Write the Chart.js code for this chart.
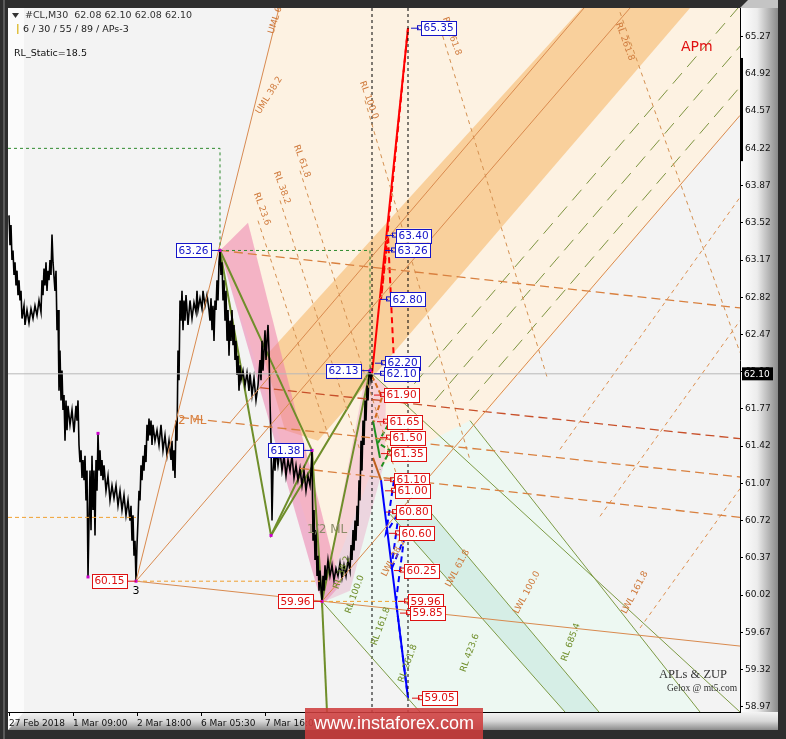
<!DOCTYPE html>
<html>
<head>
<meta charset="utf-8">
<script src="https://cdn.jsdelivr.net/npm/chart.js@4.4.1/dist/chart.umd.min.js"></script>
<style>
html,body{margin:0;padding:0;background:#2e2e2e;overflow:hidden}
canvas{display:block}
</style>
</head>
<body>
<canvas id="c" width="786" height="739"></canvas>
<script>
// ---- #CL M30 close prices: [bar, price] ----
const priceSeries = [[1,63.59],[2,63.31],[3,63.50],[4,63.17],[5,63.26],[6,63.03],[7,63.15],[8,62.93],[9,63.07],[10,62.84],[11,62.98],[12,62.79],[13,62.88],[14,62.62],[16,62.74],[17,62.56],[19,62.70],[21,62.58],[23,62.71],[25,62.62],[27,62.74],[29,62.65],[31,62.79],[33,62.68],[34,62.98],[35,62.84],[36,63.09],[37,62.93],[38,63.15],[39,62.88],[40,63.07],[41,62.98],[42,63.17],[43,63.03],[44,63.41],[45,63.15],[47,62.88],[48,63.07],[49,62.51],[50,62.70],[51,61.94],[52,62.32],[53,61.85],[54,62.13],[55,61.76],[56,61.90],[57,61.47],[58,61.85],[59,61.57],[60,61.80],[62,61.62],[64,61.76],[66,61.55],[68,61.80],[69,61.66],[70,61.85],[71,61.43],[72,61.27],[73,61.38],[74,61.12],[75,61.29],[76,61.10],[77,61.33],[78,60.91],[79,61.19],[80,60.19],[81,60.72],[82,61.19],[83,60.63],[84,61.33],[85,60.82],[86,61.19],[87,60.58],[88,61.29],[89,61.00],[90,61.54],[91,61.19],[92,61.38],[93,61.14],[94,61.29],[95,61.10],[96,61.24],[98,61.00],[100,61.14],[102,60.91],[104,61.05],[106,60.93],[108,61.05],[110,60.86],[112,61.00],[114,60.82],[116,60.96],[118,60.77],[120,60.91],[122,60.72],[123,60.86],[124,60.53],[125,60.77],[126,60.39],[127,60.53],[128,60.15],[129,60.49],[130,60.72],[131,61.00],[132,60.91],[133,61.24],[134,61.10],[135,61.33],[136,61.19],[137,61.43],[138,61.27],[139,61.62],[140,61.47],[141,61.68],[142,61.52],[143,61.66],[144,61.43],[145,61.62],[147,61.47],[149,61.57],[151,61.43],[153,61.62],[155,61.38],[157,61.52],[159,61.33],[161,61.47],[163,61.29],[164,61.47],[165,61.19],[166,61.38],[167,61.12],[168,61.66],[169,61.47],[170,62.32],[171,62.04],[172,62.79],[173,62.60],[174,62.88],[175,62.51],[176,62.79],[177,62.60],[178,62.84],[180,62.56],[182,62.79],[184,62.62],[186,62.77],[188,62.68],[189,62.88],[190,62.70],[192,62.81],[194,62.71],[195,62.88],[197,62.74],[199,62.84],[201,62.70],[202,62.60],[203,62.81],[204,62.51],[205,62.74],[206,62.41],[207,62.79],[208,62.70],[209,62.98],[210,62.79],[211,63.15],[212,63.26],[213,63.03],[214,63.15],[215,62.79],[216,62.98],[217,62.60],[218,62.88],[219,62.41],[220,62.70],[221,62.27],[222,62.60],[223,62.41],[224,62.70],[225,62.37],[226,62.56],[227,62.23],[228,62.41],[229,62.09],[230,62.27],[231,61.94],[232,62.18],[233,62.04],[235,62.13],[237,61.99],[239,62.11],[241,61.94],[242,62.11],[244,61.90],[246,62.06],[248,61.85],[250,61.99],[252,62.23],[253,62.04],[254,62.41],[255,62.13],[256,62.32],[257,62.51],[258,62.23],[259,62.41],[260,62.56],[261,62.32],[262,61.85],[263,61.47],[264,60.72],[265,61.19],[266,61.33],[267,61.19],[268,61.40],[270,61.24],[272,61.38],[274,61.19],[276,61.33],[278,61.14],[280,61.29],[282,61.19],[284,61.33],[286,61.12],[288,61.24],[290,61.10],[292,61.21],[294,61.05],[296,61.19],[298,61.00],[300,61.14],[302,61.05],[303,61.19],[304,61.38],[305,60.53],[306,60.82],[307,60.35],[308,60.63],[309,60.20],[310,60.39],[311,60.06],[312,60.25],[313,60.08],[314,59.96],[315,60.20],[316,60.06],[317,60.30],[318,60.16],[320,60.35],[322,60.20],[324,60.30],[326,60.16],[328,60.27],[330,60.20],[332,60.32],[334,60.18],[336,60.30],[338,60.20],[340,60.35],[342,60.25],[343,60.49],[344,60.35],[345,60.63],[346,60.44],[347,60.72],[348,60.53],[349,60.86],[350,60.67],[351,61.10],[352,60.91],[353,61.47],[354,61.19],[355,61.66],[356,61.43],[357,61.85],[358,61.66],[359,61.99],[360,61.85],[361,62.09],[362,62.13],[363,62.04],[364,62.10]];

// ---- axes ----
const yTickValues = [65.27,64.92,64.57,64.22,63.87,63.52,63.17,62.82,62.47,62.12,61.77,61.42,61.07,60.72,60.37,60.02,59.67,59.32,58.97];
const xTickBars = [1,65,129,193,257];
const xTickLabels = ['27 Feb 2018','1 Mar 09:00','2 Mar 18:00','6 Mar 05:30','7 Mar 16:00'];
const lastPrice = 62.10;
const currentBar = 364;
const futureBar = 400;

// ---- ZUP zigzag pivots ----
const zigHighBars = [212, 304, 362];
const zigHighPrices = [63.26, 61.38, 62.13];
const zigLowBars = [128, 314];
const zigLowPrices = [60.15, 59.96];
const extraPivotBars = [80, 90, 263];
const extraPivotPrices = [60.19, 61.54, 60.58];

// ---- projected targets ----
const upTargetBars = [411, 386, 385, 380, 375, 374];
const upTargetPrices = [65.35, 63.40, 63.26, 62.80, 62.20, 62.10];
const downTargetBars = [374, 377, 380, 381, 384, 385, 386, 389, 394, 398, 400, 412];
const downTargetPrices = [61.90, 61.65, 61.50, 61.35, 61.10, 61.00, 60.80, 60.60, 60.25, 59.96, 59.85, 59.05];

// ---- projection paths ----
const redSolidPath = [[364,62.10],[400,65.35]];
const redDashPath = [[386,62.20],[380,63.40],[373,62.80],[400,65.35]];
const blueSolidPath = [[373,61.10],[400,59.05]];
const blueDashPath = [[386,61.10],[378,60.60],[391,60.80],[383,60.25],[396,60.55],[388,59.96],[400,59.05]];
const greenSolidPath = [[365,61.66],[372,61.31]];
const greenDashPath = [[380,61.62],[370,61.45],[382,61.38],[372,61.20]];
const brownDashPath = [[364,62.08],[374,61.88],[366,61.65]];
const brownSolidPath = [[365,61.31],[373,61.10]];

// ---- olive wave lines ----
const oliveWaveA = [[212,63.26],[263,60.58],[362,62.13]];
const oliveWaveB = [[212,63.26],[304,61.38],[314,59.96],[362,62.13]];
const oliveWaveC = [[263,60.58],[304,61.38]];
const oliveTail = [[314,59.96],[319,58.92]];

// ---- levels & boxes ----
const greenBoxA = [[0,64.22],[212,64.22],[212,63.26]];
const greenBoxB = [[212,63.26],[362,63.26],[362,62.13]];
const levelLeft = [[0,60.75],[128,60.75]];
const levelLow1 = [[128,60.15],[312,60.15]];
const levelLow2 = [[314,59.96],[400,59.96]];

// ---- Andrews pitchfork lines ----
const forkBase = [[128,60.15],[732,59.54]];
const forkUml = [[128,60.15],[271,65.54]];
const forkUpper = [[128,60.15],[622,65.54]];
const forkInner = [[222,61.64],[576,65.54]];
const forkLower = [[314,59.96],[732,64.53]];
const mlLineA = [[212,63.26],[732,62.72]];
const mlLineB = [[252,61.97],[732,61.49]];
const mlLineC = [[172,61.69],[732,61.13]];
const mlLineD = [[292,61.21],[732,60.75]];
const rlLines = [
  [[250,63.54],[322,61.47]],
  [[272,63.73],[352,61.38]],
  [[292,64.01],[392,61.05]],
  [[357,64.67],[462,61.29]],
  [[430,65.42],[540,62.04]],
  [[612,65.50],[732,62.30]]
];
const sideDashLines = [
  [[552,61.39],[732,63.76]],
  [[592,60.76],[732,62.60]],
  [[632,59.71],[732,61.02]]
];
const oliveLongLines = [
  [[392,61.85],[730,65.54]],
  [[427,61.85],[765,65.54]],
  [[462,61.85],[800,65.54]]
];
const lwlLines = [
  [[364,62.10],[732,58.92]],
  [[314,59.96],[412,58.92]],
  [[382,60.78],[557,58.92]],
  [[417,60.86],[591,58.92]],
  [[462,61.66],[692,58.92]]
];

// ---- zones ----
const peachZone = [[271,65.54],[732,65.54],[732,64.53],[322,60.02],[212,63.26]];
const bandZone = [[256,62.25],[574,65.54],[682,65.54],[310,61.47],[277,61.57]];
const pinkZone = [[212,63.26],[240,63.52],[332,60.11],[317,59.95],[310,60.06]];
const pinkZone2 = [[314,59.95],[358,62.11],[378,61.99],[377,61.29],[342,60.06]];
const mintZone = [[314,59.96],[364,61.19],[462,61.66],[692,58.92],[412,58.92]];
const tealZone = [[382,60.78],[417,60.86],[591,58.92],[557,58.92]];

// ---------------------------------------------------------------
const FONT = '"DejaVu Sans", "Liberation Sans", sans-serif';
const SERIF = '"Liberation Serif", "DejaVu Serif", serif';

function pts(a){ return a.map(p => ({x:p[0], y:p[1]})); }
function line(a, color, width, dash){
  return {data: pts(a), showLine:true, borderColor:color, borderWidth:width,
          borderDash:dash||[], pointRadius:0, fill:false, tension:0};
}

const datasets = [];
datasets.push(line([[0,lastPrice],[732,lastPrice]], '#b8b8b8', 1));
datasets.push(line(greenBoxA, '#2f8a2f', 1, [3,3]));
datasets.push(line(greenBoxB, '#2f8a2f', 1, [3,3]));
datasets.push(line(levelLeft, '#f0a030', 1, [4,3]));
datasets.push(line(levelLow1, '#f0a030', 1, [4,3]));
datasets.push(line(levelLow2, '#f0a030', 1, [4,3]));
[forkBase, forkUml, forkUpper, forkInner, forkLower].forEach(l => datasets.push(line(l, '#d98a4e', 1)));
[mlLineA, mlLineC, mlLineD].forEach(l => datasets.push(line(l, '#d9803f', 1.3, [9,5])));
datasets.push(line(mlLineB, '#c8502a', 1.3, [9,5]));
rlLines.forEach(l => datasets.push(line(l, '#d49050', 1, [4,4])));
sideDashLines.forEach(l => datasets.push(line(l, '#dd9050', 1, [4,4])));
oliveLongLines.forEach(l => datasets.push(line(l, '#7d9440', 1, [14,8])));
lwlLines.forEach(l => datasets.push(line(l, '#7d9a45', 1)));
datasets.push(line([[currentBar,65.54],[currentBar,58.92]], '#000000', 1, [3,3]));
datasets.push(line([[futureBar,65.54],[futureBar,58.92]], '#000000', 1, [3,3]));
datasets.push(line(priceSeries, '#000000', 1.6));
[oliveWaveA, oliveWaveB, oliveWaveC, oliveTail].forEach(l => datasets.push(line(l, '#6f8e2a', 2)));
datasets.push(line(redSolidPath, '#ff0000', 2));
datasets.push(line(redDashPath, '#ff0000', 2, [6,4]));
datasets.push(line(brownDashPath, '#d2691e', 2, [5,3]));
datasets.push(line(brownSolidPath, '#c06020', 2));
datasets.push(line(greenSolidPath, '#1f8f1f', 2));
datasets.push(line(greenDashPath, '#1f8f1f', 2, [5,3]));
datasets.push(line(blueSolidPath, '#0000ff', 2));
datasets.push(line(blueDashPath, '#0000ff', 2, [6,4]));

function poly(ctx, chart, a, color){
  const xs = chart.scales.x, ys = chart.scales.y;
  ctx.beginPath();
  a.forEach((p,i) => {
    const px = xs.getPixelForValue(p[0]), py = ys.getPixelForValue(p[1]);
    if (i===0) ctx.moveTo(px,py); else ctx.lineTo(px,py);
  });
  ctx.closePath();
  ctx.fillStyle = color;
  ctx.fill();
}

function txt(ctx, s, x, y, color, font, angle, align){
  ctx.save();
  ctx.translate(x, y);
  if (angle) ctx.rotate(angle*Math.PI/180);
  ctx.fillStyle = color;
  ctx.font = font;
  ctx.textAlign = align || 'left';
  ctx.textBaseline = 'middle';
  ctx.fillText(s, 0, 0);
  ctx.restore();
}

const framePlugin = {
  id: 'frame',
  beforeDraw(chart){
    const ctx = chart.ctx, a = chart.chartArea;
    ctx.save();
    ctx.fillStyle = '#2e2e2e';
    ctx.fillRect(0,0,786,739);
    // right price-scale panel
    let g = ctx.createLinearGradient(a.right,0,778,0);
    g.addColorStop(0,'#ffffff'); g.addColorStop(0.45,'#ececec'); g.addColorStop(1,'#8a8a8a');
    ctx.fillStyle = g;
    ctx.fillRect(a.right, a.top, 778-a.right, 730-a.top);
    // bottom time-scale panel
    g = ctx.createLinearGradient(0,a.bottom,0,730);
    g.addColorStop(0,'#f4f4f4'); g.addColorStop(0.5,'#d8d8d8'); g.addColorStop(1,'#8c8c8c');
    ctx.fillStyle = g;
    ctx.fillRect(a.left, a.bottom, 778-a.left, 730-a.bottom);
    // bevel corners
    ctx.beginPath(); ctx.moveTo(a.right,a.top); ctx.lineTo(a.right+8,0); ctx.lineTo(778,0); ctx.lineTo(778,a.top); ctx.closePath();
    ctx.fillStyle = '#c4c4c4'; ctx.fill();
    ctx.beginPath(); ctx.moveTo(a.left,a.bottom); ctx.lineTo(a.left+16,a.bottom); ctx.lineTo(a.left,730); ctx.closePath();
    ctx.fillStyle = '#ffffff'; ctx.fill();
    ctx.fillStyle = '#5a5a5a';
    ctx.fillRect(3,0,2,739);
    // plot background
    ctx.fillStyle = '#f3f3f3';
    ctx.fillRect(a.left, a.top, a.right-a.left, a.bottom-a.top);
    ctx.fillStyle = '#fbfbfb';
    ctx.fillRect(a.left, a.top, 16, a.bottom-a.top);
    ctx.restore();
  },
  beforeDatasetsDraw(chart){
    const ctx = chart.ctx, a = chart.chartArea;
    ctx.save();
    ctx.beginPath(); ctx.rect(a.left,a.top,a.right-a.left,a.bottom-a.top); ctx.clip();
    poly(ctx, chart, peachZone, '#fdf2e2');
    poly(ctx, chart, mintZone, '#edf8f2');
    poly(ctx, chart, tealZone, '#d6eee6');
    poly(ctx, chart, bandZone, '#f9d09c');
    poly(ctx, chart, pinkZone, 'rgba(236,120,170,0.52)');
    poly(ctx, chart, pinkZone2, 'rgba(236,150,190,0.35)');
    ctx.restore();
  },
  afterDatasetsDraw(chart){
    const ctx = chart.ctx, a = chart.chartArea;
    const xs = chart.scales.x, ys = chart.scales.y;
    const X = v => xs.getPixelForValue(v), Y = v => ys.getPixelForValue(v);
    ctx.save();
    ctx.beginPath(); ctx.rect(a.left,a.top,a.right-a.left,a.bottom-a.top); ctx.clip();

    // pivot dots
    ctx.fillStyle = '#cc00cc';
    const allPivotPrices = zigHighPrices.concat(zigLowPrices, extraPivotPrices);
    zigHighBars.concat(zigLowBars, extraPivotBars).forEach((b,i) => {
      ctx.fillRect(X(b)-1.5, Y(allPivotPrices[i])-1.5, 3, 3);
    });

    // rotated fork labels
    const orange = '#cf7a3c', olive = '#6f8e2a';
    const f9 = '9px ' + FONT;
    txt(ctx, 'UML 61.8', X(263), Y(65.30), orange, f9, -72);
    txt(ctx, 'UML 38.2', X(250), Y(64.55), orange, f9, -58);
    txt(ctx, 'RL 23.6', X(248), Y(63.80), orange, f9, 70);
    txt(ctx, 'RL 38.2', X(268), Y(64.00), orange, f9, 70);
    txt(ctx, 'RL 61.8', X(288), Y(64.25), orange, f9, 70);
    txt(ctx, 'RL 100.0', X(354), Y(64.85), orange, f9, 70);
    txt(ctx, 'RL 161.8', X(437), Y(65.45), orange, f9, 70);
    txt(ctx, 'RL 261.8', X(610), Y(65.40), orange, f9, 70);
    txt(ctx, 'LWL 38.2', X(376), Y(60.20), orange, f9, -62);
    txt(ctx, 'LWL 61.8', X(440), Y(60.10), orange, f9, -62);
    txt(ctx, 'LWL 100.0', X(508), Y(59.85), orange, f9, -62);
    txt(ctx, 'LWL 161.8', X(616), Y(59.85), orange, f9, -62);
    txt(ctx, 'RL 38.2', X(328), Y(60.08), olive, f9, -70);
    txt(ctx, 'RL 100.0', X(340), Y(59.85), olive, f9, -70);
    txt(ctx, 'RL 161.8', X(366), Y(59.55), olive, f9, -70);
    txt(ctx, 'RL 261.8', X(393), Y(59.20), olive, f9, -70);
    txt(ctx, 'RL 423.6', X(455), Y(59.30), olive, f9, -70);
    txt(ctx, 'RL 685.4', X(556), Y(59.40), olive, f9, -70);
    txt(ctx, '2 ML', X(170), Y(61.66), '#d9803f', '12px ' + FONT);
    txt(ctx, '1/2 ML', X(299), Y(60.63), '#8c8c6a', '12px ' + FONT);
    txt(ctx, '3', X(128), Y(60.06), '#000000', '11px ' + FONT, 0, 'center');

    // value boxes
    function box(s, x, y, col, side){
      ctx.font = '10.5px ' + FONT;
      const w = ctx.measureText(s).width + 5, h = 14;
      const bx = side === 'left' ? x - w : x;
      ctx.fillStyle = '#ffffff';
      ctx.fillRect(bx, y - h/2, w, h);
      ctx.strokeStyle = col; ctx.lineWidth = 1;
      ctx.strokeRect(Math.round(bx)+0.5, Math.round(y-h/2)+0.5, Math.round(w), h);
      ctx.fillStyle = col; ctx.textBaseline = 'middle'; ctx.textAlign = 'left';
      ctx.fillText(s, bx + 2.5, y + 0.5);
    }
    function rightTarget(b, p, col){
      const x = X(b), y = Y(p);
      ctx.strokeStyle = col; ctx.lineWidth = 1;
      ctx.beginPath(); ctx.moveTo(x-8, y); ctx.lineTo(x, y); ctx.stroke();
      ctx.strokeRect(x-1.5, y-2.5, 4, 4);
      box(p.toFixed(2), x+2, y, col, 'right');
    }
    upTargetBars.forEach((b,i) => rightTarget(b, upTargetPrices[i], '#1414c8'));
    downTargetBars.forEach((b,i) => rightTarget(b, downTargetPrices[i], '#dd1111'));
    function leftPivot(b, p, col){
      const x = X(b), y = Y(p);
      ctx.strokeStyle = col; ctx.lineWidth = 1;
      ctx.beginPath(); ctx.moveTo(x-9, y); ctx.lineTo(x, y); ctx.stroke();
      box(p.toFixed(2), x-9, y, col, 'left');
    }
    zigHighBars.forEach((b,i) => leftPivot(b, zigHighPrices[i], '#1414c8'));
    zigLowBars.forEach((b,i) => leftPivot(b, zigLowPrices[i], '#dd1111'));

    txt(ctx, 'APm', X(673), Y(65.17), '#e01010', '14px ' + FONT);
    txt(ctx, 'APLs & ZUP', X(651), Y(59.27), '#333333', '12.5px ' + SERIF);
    txt(ctx, 'Gelox @ mt5.com', X(659), Y(59.14), '#333333', '9.5px ' + SERIF);
    ctx.restore();

    // header texts
    ctx.save();
    ctx.fillStyle = '#333';
    ctx.beginPath(); ctx.moveTo(12,13); ctx.lineTo(19,13); ctx.lineTo(15.5,18); ctx.closePath(); ctx.fill();
    txt(ctx, '#CL,M30  62.08 62.10 62.08 62.10', 25, 16, '#333333', '9.5px ' + FONT);
    ctx.fillStyle = '#e0c040'; ctx.fillRect(17, 24, 1.5, 10);
    txt(ctx, '6 / 30 / 55 / 89 / APs-3', 23, 30, '#222222', '9.5px ' + FONT);
    txt(ctx, 'RL_Static=18.5', 14, 54, '#111111', '9.5px ' + FONT);
    ctx.restore();
  },
  afterDraw(chart){
    const ctx = chart.ctx, a = chart.chartArea;
    const ys = chart.scales.y;
    ctx.save();
    // scroll marker on the price scale
    ctx.fillStyle = '#000';
    ctx.fillRect(a.right, ys.getPixelForValue(65.07), 3, ys.getPixelForValue(64.10)-ys.getPixelForValue(65.07));
    // last price tag
    const y = ys.getPixelForValue(lastPrice);
    ctx.fillStyle = '#000';
    ctx.fillRect(a.right+2, y-6.5, 31, 13);
    ctx.fillStyle = '#fff'; ctx.font = '9px ' + FONT; ctx.textBaseline = 'middle'; ctx.textAlign = 'left';
    ctx.fillText(lastPrice.toFixed(2), a.right+4, y+0.5);
    // site banner
    ctx.fillStyle = 'rgba(206,62,62,0.88)';
    ctx.fillRect(305, 708, 178, 31);
    ctx.fillStyle = '#ffffff'; ctx.font = '18px "Liberation Sans", Arial, sans-serif';
    ctx.textAlign = 'center'; ctx.textBaseline = 'middle';
    ctx.fillText('www.instaforex.com', 394, 724);
    ctx.restore();
  }
};

new Chart(document.getElementById('c'), {
  type: 'scatter',
  data: { datasets },
  options: {
    responsive: false, animation: false, devicePixelRatio: 1,
    layout: { padding: { left: 8, top: 8, right: 0, bottom: 0 } },
    plugins: { legend: {display:false}, tooltip: {enabled:false} },
    scales: {
      x: {
        type: 'linear', min: 0, max: 732, position: 'bottom',
        afterBuildTicks: s => { s.ticks = xTickBars.map(v => ({value:v})); },
        afterFit: s => { s.height = 27; },
        grid: { display: true, drawOnChartArea: false, drawTicks: true, tickLength: 4, color: '#000' },
        border: { display: true, color: '#000' },
        ticks: { align: 'start', maxRotation: 0, autoSkip: false, padding: 2, color: '#111',
                 font: { size: 9, family: FONT },
                 callback: (v, i) => xTickLabels[i] }
      },
      y: {
        type: 'linear', min: 58.92, max: 65.54, position: 'right',
        afterBuildTicks: s => { s.ticks = yTickValues.map(v => ({value:v})); },
        afterFit: s => { s.width = 46; },
        grid: { display: true, drawOnChartArea: false, drawTicks: true, tickLength: 3, color: '#000' },
        border: { display: true, color: '#000' },
        ticks: { padding: 2, color: '#111', font: { size: 9, family: FONT },
                 callback: v => v.toFixed(2) }
      }
    }
  },
  plugins: [framePlugin]
});
</script>
</body>
</html>
